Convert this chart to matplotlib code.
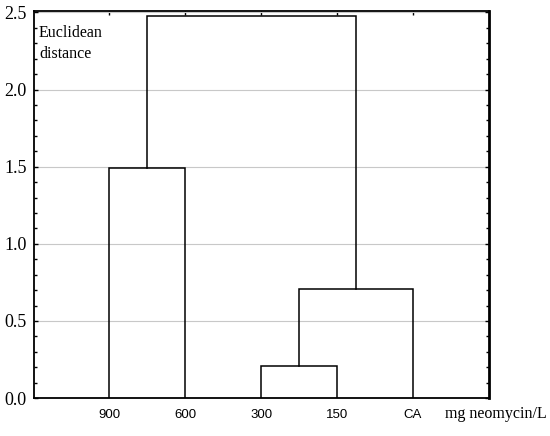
import matplotlib
matplotlib.use("Agg")
import matplotlib.pyplot as plt
import numpy as np

# leaves in plotted order
leaves = ["900", "600", "300", "150", "CA"]
# merges: (left cluster, right cluster, linkage distance)
# clusters 0-4 are leaves, 5+ are merged clusters in order
merges = [
    (0, 1, 1.49),   # 900 + 600
    (2, 3, 0.207),  # 300 + 150
    (6, 4, 0.705),  # (300,150) + CA
    (5, 7, 2.48),   # all
]

fig = plt.figure(figsize=(5.5, 4.36), dpi=100)
ax = fig.add_axes([0.061, 0.087, 0.828, 0.888])

# x position and height of each cluster
xpos = {i: i + 1 for i in range(len(leaves))}
hgt = {i: 0.0 for i in range(len(leaves))}
for k, (a, b, h) in enumerate(merges):
    ax.plot([xpos[a], xpos[a], xpos[b], xpos[b]], [hgt[a], h, h, hgt[b]],
            color="black", lw=1.1, solid_joinstyle="miter", zorder=3)
    new = len(leaves) + k
    xpos[new] = (xpos[a] + xpos[b]) / 2
    hgt[new] = h

ax.set_xlim(0, 6)
ax.set_ylim(0, 2.51)

ax.set_yticks(np.arange(0, 2.51, 0.5))
ax.set_yticklabels([f"{v:.1f}" for v in np.arange(0, 2.51, 0.5)],
                   family="Liberation Serif", fontsize=13)
ax.set_yticks(np.arange(0, 2.51, 0.1), minor=True)
ax.set_xticks(range(1, len(leaves) + 1))
ax.set_xticklabels(leaves, family="Liberation Sans", fontsize=9.5)
ax.tick_params(axis="both", which="both", direction="in", right=True, top=True,
               length=3, width=1)
ax.tick_params(axis="y", which="major", pad=5)
ax.tick_params(axis="y", which="minor", length=2)
ax.tick_params(axis="x", bottom=False, pad=8)

ax.yaxis.grid(True, color="#c8c8c8", lw=0.8)
ax.set_axisbelow(True)
for s in ax.spines.values():
    s.set_linewidth(1.3)
ax.spines["right"].set_linewidth(2)

ax.text(0.012, 0.963, "Euclidean\ndistance", transform=ax.transAxes,
        family="Liberation Serif", fontsize=11.5, va="top", ha="left",
        linespacing=1.4)
fig.text(0.994, 0.05, "mg neomycin/L", family="Liberation Serif",
         fontsize=11.5, ha="right", va="center")

fig.savefig("out.png", dpi=100)
